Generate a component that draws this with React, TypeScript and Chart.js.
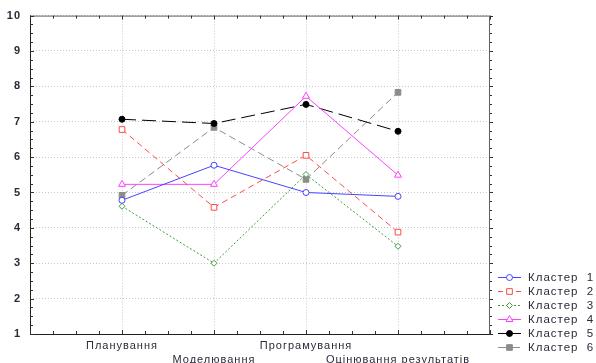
import React, { useEffect, useRef } from "react";
import { Chart, registerables } from "chart.js";
import { drawPoint } from "chart.js/helpers";

Chart.register(...registerables);

const categories = ["Планування", "Моделювання", "Програмування", "Оцінювання результатів"];
const categoryPositions = [1, 2, 3, 4];
const seriesNames = ["Кластер  1", "Кластер  2", "Кластер  3", "Кластер  4", "Кластер  5", "Кластер  6"];
const cluster1 = [4.78, 5.77, 5.0, 4.89];
const cluster2 = [6.78, 4.58, 6.05, 3.88];
const cluster3 = [4.61, 3.0, 5.51, 3.48];
const cluster4 = [5.23, 5.23, 7.72, 5.49];
const cluster5 = [7.07, 6.95, 7.49, 6.73];
const cluster6 = [4.92, 6.84, 5.37, 7.83];
const yTicks = [1, 2, 3, 4, 5, 6, 7, 8, 9, 10];

const styles = [
  { color: "#4646ff", dash: [], legendDash: [], point: "circle", fill: "#ffffff", radius: 3 },
  { color: "#ff4a4a", dash: [6, 4], legendDash: [5, 4], point: "rect", fill: "#ffffff", radius: 4 },
  { color: "#3e9e3e", dash: [2, 2], legendDash: [2, 2], point: "rectRot", fill: "#ffffff", radius: 3 },
  { color: "#ff40ff", dash: [], legendDash: [], point: "triangle", fill: "#ffffff", radius: 4 },
  { color: "#000000", dash: [14, 6], legendDash: [], point: "circle", fill: "#000000", radius: 3 },
  { color: "#8c8c8c", dash: [7, 4], legendDash: [9, 4], point: "rect", fill: "#8c8c8c", radius: 4 },
];

const allSeries = [cluster1, cluster2, cluster3, cluster4, cluster5, cluster6];

const framePlugin = {
  id: "frameAndLegend",
  beforeDraw(chart: any) {
    const ctx = chart.ctx;
    ctx.save();
    ctx.fillStyle = "#ffffff";
    ctx.fillRect(0, 0, chart.width, chart.height);
    ctx.restore();
    ctx.letterSpacing = "1px";
  },
  afterDraw(chart: any) {
    const ctx = chart.ctx;
    const { left, right, top, bottom } = chart.chartArea;
    const xs = chart.scales.x;
    const ys = chart.scales.y;
    ctx.save();
    ctx.letterSpacing = "0px";
    ctx.lineWidth = 1;
    ctx.strokeStyle = "#202020";
    ctx.beginPath();
    ctx.moveTo(left + 0.5, top);
    ctx.lineTo(left + 0.5, bottom + 0.5);
    ctx.lineTo(right, bottom + 0.5);
    ctx.stroke();
    ctx.strokeStyle = "#606060";
    ctx.beginPath();
    ctx.moveTo(left, top + 0.5);
    ctx.lineTo(right - 0.5, top + 0.5);
    ctx.lineTo(right - 0.5, bottom);
    ctx.stroke();
    ctx.strokeStyle = "#303030";
    for (let v = 0; v <= 5.001; v += 0.25) {
      const px = Math.round(xs.getPixelForValue(v)) + 0.5;
      const len = Math.abs(v - Math.round(v)) < 0.01 ? 4 : 3;
      ctx.beginPath();
      ctx.moveTo(px, bottom);
      ctx.lineTo(px, bottom - len);
      ctx.moveTo(px, top);
      ctx.lineTo(px, top + len);
      ctx.stroke();
    }
    for (let v = 1; v <= 10.001; v += 0.25) {
      const py = Math.round(ys.getPixelForValue(v)) + 0.5;
      const len = Math.abs(v - Math.round(v)) < 0.01 ? 4 : 3;
      ctx.beginPath();
      ctx.moveTo(left, py);
      ctx.lineTo(left + len, py);
      ctx.moveTo(right, py);
      ctx.lineTo(right + len - 1, py);
      ctx.stroke();
    }
    const lx0 = right + 8;
    const lx1 = right + 31;
    const tx = right + 38;
    ctx.font = "11.5px 'Liberation Sans', Arial, sans-serif";
    ctx.letterSpacing = "1px";
    ctx.textBaseline = "middle";
    ctx.textAlign = "left";
    chart.data.datasets.forEach((ds: any, i: number) => {
      const y = 277 + i * 14;
      const st = styles[i];
      ctx.save();
      ctx.strokeStyle = st.color;
      ctx.lineWidth = 1;
      ctx.setLineDash(st.legendDash);
      ctx.beginPath();
      ctx.moveTo(lx0, y + 0.5);
      ctx.lineTo(lx1, y + 0.5);
      ctx.stroke();
      ctx.setLineDash([]);
      ctx.strokeStyle = st.color;
      ctx.fillStyle = st.fill;
      drawPoint(ctx, { pointStyle: st.point, radius: st.radius, borderWidth: 1, rotation: 0 } as any, (lx0 + lx1) / 2, y + 0.5);
      ctx.restore();
      ctx.fillStyle = "#2a2a3a";
      ctx.fillText(seriesNames[i], tx, y + 1);
    });
    ctx.restore();
    ctx.letterSpacing = "0px";
  },
};

export default function App() {
  const ref = useRef<HTMLCanvasElement | null>(null);
  useEffect(() => {
    if (!ref.current) return;
    const chart = new Chart(ref.current, {
      type: "line",
      data: {
        datasets: allSeries.map((vals, i) => ({
          label: seriesNames[i],
          data: vals.map((v, j) => ({ x: categoryPositions[j], y: v })),
          borderColor: styles[i].color,
          borderWidth: 1,
          borderDash: styles[i].dash,
          pointStyle: styles[i].point as any,
          pointRadius: styles[i].radius,
          pointBorderColor: styles[i].color,
          pointBackgroundColor: styles[i].fill,
          pointBorderWidth: 1,
          fill: false,
          tension: 0,
        })),
      },
      options: {
        responsive: false,
        animation: false,
        layout: { padding: { top: 15, right: 106, left: 0, bottom: 0 } },
        plugins: { legend: { display: false }, tooltip: { enabled: false } },
        scales: {
          x: {
            type: "linear",
            min: 0,
            max: 5,
            afterBuildTicks: (scale: any) => {
              scale.ticks = categoryPositions.map((v) => ({ value: v }));
            },
            afterFit: (scale: any) => {
              scale.height = 29;
            },
            grid: { color: "#c8c8c8", drawTicks: false },
            border: { display: false, dash: [1, 2] },
            ticks: {
              autoSkip: false,
              maxRotation: 0,
              padding: 5,
              color: "#2a2a3a",
              font: { family: "'Liberation Sans', Arial, sans-serif", size: 11, lineHeight: 1.25 },
              callback: (v: any) => {
                const idx = categoryPositions.indexOf(Number(v));
                if (idx < 0) return "";
                return idx % 2 === 0 ? [categories[idx], ""] : ["", categories[idx]];
              },
            },
          },
          y: {
            min: 1,
            max: 10,
            afterBuildTicks: (scale: any) => {
              scale.ticks = yTicks.map((v) => ({ value: v }));
            },
            afterFit: (scale: any) => {
              scale.width = 30;
            },
            grid: { color: "#c8c8c8", drawTicks: false },
            border: { display: false, dash: [1, 2] },
            ticks: {
              padding: 9,
              color: "#2a2a3a",
              font: { family: "'Liberation Sans', Arial, sans-serif", size: 11, weight: "bold" },
            },
          },
        },
      },
      plugins: [framePlugin],
    });
    return () => chart.destroy();
  }, []);
  return (
    <div style={{ position: "fixed", left: 0, top: 0, width: 596, height: 363, background: "#fff" }}>
      <canvas ref={ref} width={596} height={363} />
    </div>
  );
}
